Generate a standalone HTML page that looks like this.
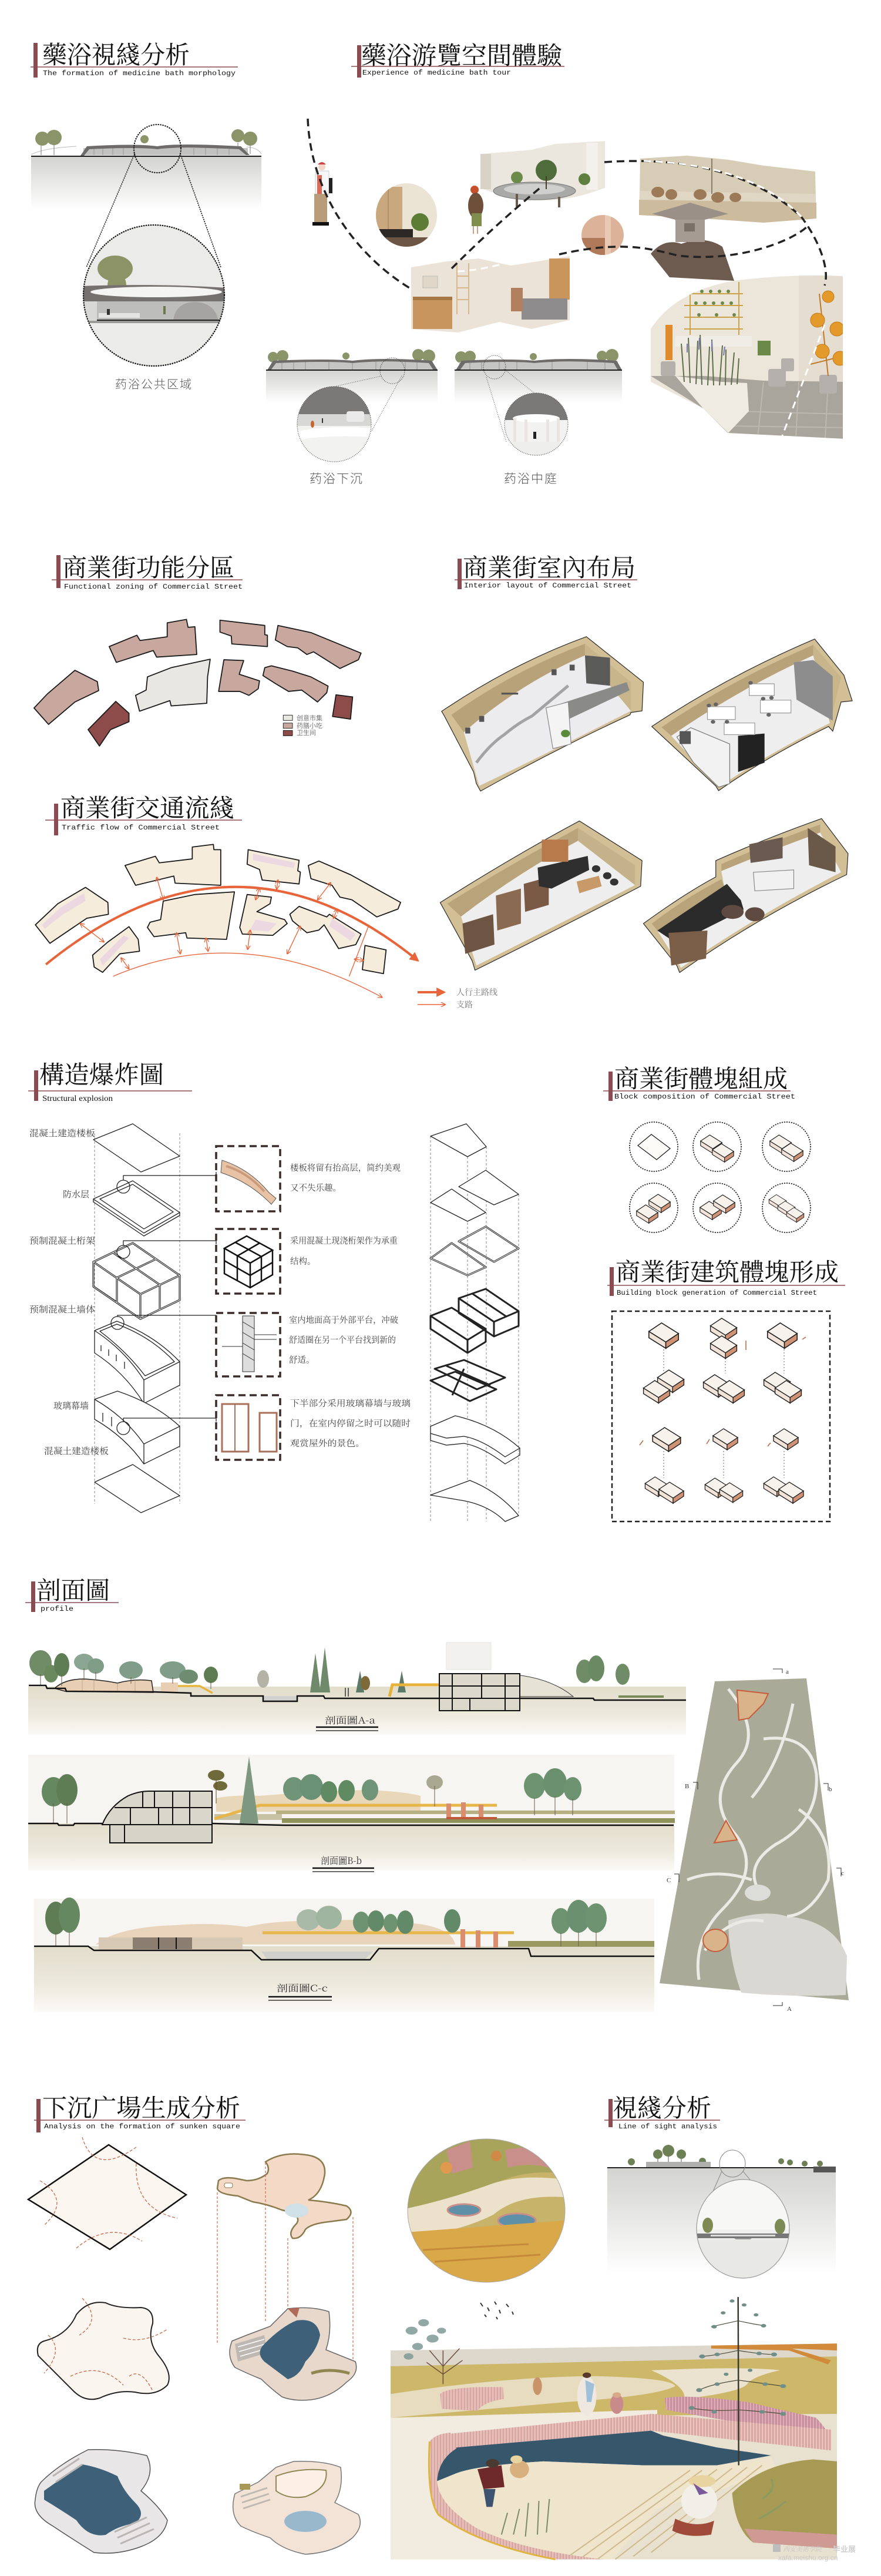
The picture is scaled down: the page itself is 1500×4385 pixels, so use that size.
<!DOCTYPE html>
<html><head><meta charset="utf-8">
<style>
html,body{margin:0;padding:0;background:#fff;}
body{width:1500px;height:4385px;overflow:hidden;position:relative;}
svg{display:block;position:absolute;left:0;top:0;}
.t *{vector-effect:non-scaling-stroke;}
.cj{font-family:"Noto Serif CJK SC","Noto Sans CJK SC",serif;}
.cs{font-family:"Liberation Sans","Noto Sans CJK SC",sans-serif;}
.en{font-family:"Liberation Mono",monospace;}
.sf{font-family:"Liberation Serif","Noto Serif CJK SC",serif;}
</style></head><body>
<svg width="1500" height="4385" viewBox="0 0 1500 4385" xmlns="http://www.w3.org/2000/svg">
<defs>
<linearGradient id="gG" x1="0" y1="0" x2="0" y2="1"><stop offset="0" stop-color="#d3d3d1"/><stop offset="1" stop-color="#ffffff"/></linearGradient>
<linearGradient id="gS" x1="0" y1="0" x2="0" y2="1"><stop offset="0" stop-color="#e2ddcb"/><stop offset=".55" stop-color="#ece8db"/><stop offset="1" stop-color="#fbfaf6"/></linearGradient>
<linearGradient id="gE" x1="0" y1="0" x2="0" y2="1"><stop offset="0" stop-color="#dddddb"/><stop offset="1" stop-color="#fafafa"/></linearGradient>
<clipPath id="cBig"><ellipse cx="262" cy="503" rx="120" ry="120"/></clipPath>
<clipPath id="cA"><ellipse cx="569" cy="722" rx="63" ry="64"/></clipPath>
<clipPath id="cB"><ellipse cx="913" cy="722" rx="54" ry="53"/></clipPath>
<clipPath id="cRound"><ellipse cx="692" cy="366" rx="52" ry="54"/></clipPath>
<clipPath id="cSmall"><ellipse cx="1026" cy="400" rx="36" ry="34"/></clipPath>
<clipPath id="cR"><path d="M1435,470 L1435,747 L1239,737 L1197,695 L1108,650 L1108,560 Q1150,495 1250,478 Q1340,466 1435,470 Z"/></clipPath>
<clipPath id="cCirc"><ellipse cx="828" cy="3763" rx="134" ry="122"/></clipPath>
<clipPath id="cSight"><ellipse cx="1265" cy="3794" rx="79" ry="84"/></clipPath>
<marker id="ah" viewBox="0 0 10 10" refX="9" refY="5" markerWidth="6" markerHeight="6" orient="auto-start-reverse"><path d="M0,0 L10,5 L0,10" fill="none" stroke="#e8643a" stroke-width="1.6"/></marker>
<marker id="ah2" viewBox="0 0 10 10" refX="8" refY="5" markerWidth="4" markerHeight="4" orient="auto"><path d="M0,0 L10,5 L0,10 Z" fill="#e8643a"/></marker>
<g id="blk">
<path d="M-14,-2 L2,8 L2,14 L-14,4 Z" fill="#f1e3d7" stroke="#222" stroke-width="0.9"/>
<path d="M2,8 L14,0 L14,6 L2,14 Z" fill="#cf9275" stroke="#222" stroke-width="0.9"/>
<path d="M-14,-2 L-2,-10 L14,0 L2,8 Z" fill="#f8f2ec" stroke="#222" stroke-width="0.9"/>
</g>
<pattern id="pst" patternUnits="userSpaceOnUse" width="10" height="10"><rect width="10" height="10" fill="#d9a8a4"/><rect width="3" height="10" fill="#efd0c6"/></pattern>
<pattern id="pst2" patternUnits="userSpaceOnUse" width="10" height="10"><rect width="10" height="10" fill="#c98f9c"/><rect width="3" height="10" fill="#e2b7bf"/></pattern>
</defs>

<!-- ================= TITLES ================= -->
<g fill="#111">
<rect x="57" y="73" width="7" height="59" fill="#8c4b50"/><line x1="52" y1="114" x2="405" y2="114" stroke="#8c4b50" stroke-width="1.5"/>
<text x="72" y="108" class="cj" font-size="42" textLength="251" lengthAdjust="spacingAndGlyphs">藥浴視綫分析</text>
<text x="73" y="128" class="en" font-size="12" textLength="328" lengthAdjust="spacingAndGlyphs">The formation of medicine bath morphology</text>

<rect x="608" y="77" width="7" height="55" fill="#8c4b50"/><line x1="598" y1="113" x2="961" y2="113" stroke="#8c4b50" stroke-width="1.5"/>
<text x="615" y="109" class="cj" font-size="42" textLength="342" lengthAdjust="spacingAndGlyphs">藥浴游覽空間體驗</text>
<text x="617" y="127" class="en" font-size="12" textLength="253" lengthAdjust="spacingAndGlyphs">Experience of medicine bath tour</text>

<rect x="96" y="945" width="7" height="56" fill="#8c4b50"/><line x1="88" y1="987" x2="413" y2="987" stroke="#8c4b50" stroke-width="1.5"/>
<text x="106" y="981" class="cj" font-size="42" textLength="293" lengthAdjust="spacingAndGlyphs">商業街功能分區</text>
<text x="109" y="1002" class="en" font-size="12" textLength="304" lengthAdjust="spacingAndGlyphs">Functional zoning of Commercial Street</text>

<rect x="779" y="951" width="7" height="52" fill="#8c4b50"/><line x1="774" y1="987" x2="1085" y2="987" stroke="#8c4b50" stroke-width="1.5"/>
<text x="788" y="981" class="cj" font-size="42" textLength="294" lengthAdjust="spacingAndGlyphs">商業街室內布局</text>
<text x="790" y="1000" class="en" font-size="12" textLength="285" lengthAdjust="spacingAndGlyphs">Interior layout of Commercial Street</text>

<rect x="92" y="1368" width="7" height="54" fill="#8c4b50"/><line x1="77" y1="1396" x2="412" y2="1396" stroke="#8c4b50" stroke-width="1.5"/>
<text x="103" y="1390" class="cj" font-size="42" textLength="296" lengthAdjust="spacingAndGlyphs">商業街交通流綫</text>
<text x="105" y="1412" class="en" font-size="12" textLength="269" lengthAdjust="spacingAndGlyphs">Traffic flow of Commercial Street</text>

<rect x="58" y="1822" width="7" height="52" fill="#8c4b50"/><line x1="48" y1="1857" x2="327" y2="1857" stroke="#8c4b50" stroke-width="1.5"/>
<text x="67" y="1844" class="cj" font-size="42" textLength="212" lengthAdjust="spacingAndGlyphs">構造爆炸圖</text>
<text x="72" y="1874" class="sf" font-size="14" textLength="120" lengthAdjust="spacingAndGlyphs">Structural explosion</text>

<rect x="1036" y="1824" width="7" height="50" fill="#8c4b50"/><line x1="1027" y1="1857" x2="1346" y2="1857" stroke="#8c4b50" stroke-width="1.5"/>
<text x="1046" y="1851" class="cj" font-size="42" textLength="295" lengthAdjust="spacingAndGlyphs">商業街體塊組成</text>
<text x="1046" y="1870" class="en" font-size="12" textLength="308" lengthAdjust="spacingAndGlyphs">Block composition of Commercial Street</text>

<rect x="1038" y="2157" width="7" height="49" fill="#8c4b50"/><line x1="1034" y1="2188" x2="1439" y2="2188" stroke="#8c4b50" stroke-width="1.5"/>
<text x="1048" y="2180" class="cj" font-size="42" textLength="380" lengthAdjust="spacingAndGlyphs">商業街建筑體塊形成</text>
<text x="1050" y="2204" class="en" font-size="12" textLength="341" lengthAdjust="spacingAndGlyphs">Building block generation of Commercial Street</text>

<rect x="53" y="2692" width="7" height="52" fill="#8c4b50"/><line x1="43" y1="2728" x2="202" y2="2728" stroke="#8c4b50" stroke-width="1.5"/>
<text x="62" y="2722" class="cj" font-size="42" textLength="125" lengthAdjust="spacingAndGlyphs">剖面圖</text>
<text x="69" y="2742" class="en" font-size="12" textLength="56" lengthAdjust="spacingAndGlyphs">profile</text>

<rect x="62" y="3573" width="7" height="57" fill="#8c4b50"/><line x1="58" y1="3609" x2="418" y2="3609" stroke="#8c4b50" stroke-width="1.5"/>
<text x="72" y="3603" class="cj" font-size="42" textLength="337" lengthAdjust="spacingAndGlyphs">下沉广場生成分析</text>
<text x="75" y="3623" class="en" font-size="12" textLength="334" lengthAdjust="spacingAndGlyphs">Analysis on the formation of sunken square</text>

<rect x="1036" y="3573" width="7" height="48" fill="#8c4b50"/><line x1="1029" y1="3609" x2="1226" y2="3609" stroke="#8c4b50" stroke-width="1.5"/>
<text x="1043" y="3603" class="cj" font-size="42" textLength="168" lengthAdjust="spacingAndGlyphs">視綫分析</text>
<text x="1053" y="3623" class="en" font-size="12" textLength="168" lengthAdjust="spacingAndGlyphs">Line of sight analysis</text>
</g>

<!-- ================= SECTION 1 LEFT ================= -->
<g>
<path d="M53,263 Q75,252 130,249 M420,250 Q440,252 445,262" stroke="#bbb" fill="none"/>
<rect x="53" y="266" width="392" height="92" fill="url(#gG)"/>
<g fill="#8b9469"><circle cx="72" cy="236" r="12"/><circle cx="92" cy="234" r="13"/><circle cx="405" cy="231" r="11"/><circle cx="426" cy="236" r="12"/><circle cx="246" cy="237" r="7"/></g>
<path d="M70,248 V264 M92,246 V264 M405,243 V262 M426,247 V262" stroke="#777" stroke-width="1"/>
<rect x="142" y="252" width="280" height="12" fill="#c2c2c0"/>
<path d="M160,252V264 M175,252V264 M192,252V264 M210,252V264 M330,252V264 M350,252V264 M370,252V264 M390,252V264" stroke="#8a8a8a" stroke-width="0.8"/>
<path d="M137,265 L148,249 Q230,244 268,249 Q300,243 410,249 L425,264 L419,264 L407,254 Q300,249 268,254 Q235,250 152,254 L143,265 Z" fill="#6d6c6a"/>
<line x1="53" y1="266" x2="445" y2="266" stroke="#1e1e1e" stroke-width="2"/>
<ellipse cx="268" cy="253" rx="40" ry="41" fill="none" stroke="#1a1a1a" stroke-width="2.2" stroke-dasharray="0.5 3.5" stroke-linecap="round"/>
<path d="M229,262 L147,455 M307,262 L376,455" stroke="#1a1a1a" stroke-width="1.8" stroke-dasharray="0.5 3.2" stroke-linecap="round" fill="none"/>
<ellipse cx="262" cy="503" rx="120" ry="120" fill="#ebebe9"/>
<g clip-path="url(#cBig)">
<ellipse cx="196" cy="457" rx="30" ry="22" fill="#8c9366"/><ellipse cx="199" cy="486" rx="16" ry="22" fill="#8c9366"/>
<path d="M138,487 Q260,482 386,490 L386,513 L138,513 Z" fill="#75716e"/>
<ellipse cx="266" cy="497" rx="112" ry="9" fill="#f4f4f2"/>
<rect x="138" y="513" width="250" height="33" fill="#bdbdbb"/>
<rect x="140" y="513" width="25" height="33" fill="#d8d8d6"/>
<path d="M295,546 Q298,516 330,514 Q365,514 372,546 Z" fill="#a5a4a2"/>
<rect x="168" y="533" width="70" height="8" fill="#e4e4e2"/>
<rect x="182" y="526" width="5" height="10" fill="#333"/><rect x="278" y="521" width="4" height="14" fill="#6f7a4a"/>
<rect x="138" y="546" width="250" height="4" fill="#9a9a98"/>
<line x1="165" y1="545" x2="386" y2="545" stroke="#222" stroke-width="2"/>
</g>
<ellipse cx="262" cy="503" rx="120" ry="120" fill="none" stroke="#1a1a1a" stroke-width="2.4" stroke-dasharray="0.5 3.5" stroke-linecap="round"/>
<text x="262" y="661" text-anchor="middle" class="cs" font-size="20" letter-spacing="2" fill="#555" font-weight="300">药浴公共区域</text>
</g>

<!-- ================= SECTION 1 BOTTOM DIAGRAMS ================= -->
<g>
<rect x="453" y="630" width="292" height="56" fill="url(#gG)"/>
<g fill="#8b9469"><circle cx="465" cy="608" r="9"/><circle cx="481" cy="606" r="10"/><circle cx="589" cy="606" r="6"/><circle cx="712" cy="604" r="10"/><circle cx="730" cy="606" r="11"/></g>
<rect x="462" y="616" width="275" height="14" fill="#c5c5c3"/>
<path d="M480,616V630 M500,616V630 M520,616V630 M560,616V630 M600,616V630 M640,616V630 M690,616V630 M710,616V630" stroke="#888" stroke-width="0.8"/>
<path d="M455,630 L465,614 Q560,610 600,614 Q650,608 735,614 L745,630 L738,630 L730,618 Q650,613 600,618 Q560,614 470,618 L461,630 Z" fill="#6d6c6a"/>
<line x1="453" y1="630" x2="745" y2="630" stroke="#1e1e1e" stroke-width="2"/>
<ellipse cx="668" cy="631" rx="21" ry="22" fill="none" stroke="#333" stroke-width="1.2" stroke-dasharray="1 2"/>
<path d="M650,640 L560,660 M684,640 L632,735" stroke="#444" stroke-width="1" stroke-dasharray="1 2" fill="none"/>
<ellipse cx="569" cy="722" rx="63" ry="64" fill="#f2f2f0"/>
<g clip-path="url(#cA)">
<rect x="500" y="655" width="140" height="50" fill="#7b7977"/>
<rect x="500" y="705" width="140" height="20" fill="#d7d7d5"/>
<path d="M500,735 Q570,722 640,730 L640,745 Q570,738 500,750 Z" fill="#fff"/>
<rect x="590" y="700" width="30" height="18" rx="4" fill="#eaeaea"/>
<ellipse cx="532" cy="722" rx="3" ry="6" fill="#c8642e"/><rect x="548" y="712" width="2" height="8" fill="#333"/>
</g>
<ellipse cx="569" cy="722" rx="63" ry="64" fill="none" stroke="#333" stroke-width="1.2" stroke-dasharray="1 2"/>
<text x="573" y="822" text-anchor="middle" class="cs" font-size="21" letter-spacing="2" fill="#555" font-weight="300">药浴下沉</text>

<rect x="774" y="630" width="285" height="56" fill="url(#gG)"/>
<g fill="#8b9469"><circle cx="785" cy="608" r="10"/><circle cx="800" cy="607" r="10"/><circle cx="908" cy="607" r="6"/><circle cx="1025" cy="606" r="9"/><circle cx="1042" cy="605" r="11"/></g>
<rect x="782" y="616" width="270" height="14" fill="#c5c5c3"/>
<path d="M800,616V630 M820,616V630 M850,616V630 M880,616V630 M940,616V630 M1000,616V630 M1030,616V630" stroke="#888" stroke-width="0.8"/>
<path d="M776,630 L786,614 Q870,610 910,614 Q960,608 1050,614 L1059,630 L1052,630 L1045,618 Q960,613 910,618 Q870,614 792,618 L783,630 Z" fill="#6d6c6a"/>
<line x1="774" y1="630" x2="1059" y2="630" stroke="#1e1e1e" stroke-width="2"/>
<ellipse cx="842" cy="625" rx="19" ry="20" fill="none" stroke="#333" stroke-width="1.2" stroke-dasharray="1 2"/>
<path d="M828,642 L862,752 M858,628 L936,690" stroke="#444" stroke-width="1" stroke-dasharray="1 2" fill="none"/>
<ellipse cx="913" cy="722" rx="54" ry="53" fill="#f2f2f0"/>
<g clip-path="url(#cB)">
<rect x="855" y="665" width="120" height="50" fill="#7b7977"/>
<ellipse cx="913" cy="712" rx="40" ry="7" fill="#fff"/>
<rect x="874" y="712" width="5" height="40" fill="#e9e4df"/><rect x="893" y="714" width="5" height="40" fill="#e9e4df"/><rect x="930" y="714" width="5" height="40" fill="#e9e4df"/><rect x="948" y="712" width="5" height="40" fill="#e9e4df"/>
<rect x="855" y="752" width="120" height="25" fill="#eeeeec"/>
<rect x="908" y="735" width="5" height="12" fill="#222"/>
</g>
<ellipse cx="913" cy="722" rx="54" ry="53" fill="none" stroke="#333" stroke-width="1.2" stroke-dasharray="1 2"/>
<text x="904" y="822" text-anchor="middle" class="cs" font-size="21" letter-spacing="2" fill="#555" font-weight="300">药浴中庭</text>
</g>

<!-- ================= SECTION 1 RIGHT (tour) ================= -->
<g>
<path d="M818,262 L870,258 L905,255 L945,245 L1030,240 L1030,320 L1000,330 Q930,350 860,335 L818,320 Z" fill="#ebe6de"/>
<rect x="818" y="262" width="18" height="60" fill="#d9d2c6"/><rect x="998" y="243" width="20" height="80" fill="#f4f1ec"/>
<ellipse cx="910" cy="325" rx="70" ry="15" fill="#a9a9a7" stroke="#777"/>
<ellipse cx="910" cy="322" rx="52" ry="9" fill="#cfcfcd"/>
<circle cx="930" cy="290" r="18" fill="#4f6d3a"/><line x1="930" y1="300" x2="930" y2="322" stroke="#4a3a2a" stroke-width="2"/>
<circle cx="880" cy="302" r="10" fill="#6c8a4a"/><circle cx="995" cy="305" r="10" fill="#5f7f40"/>
<rect x="878" y="330" width="4" height="22" fill="#6a5a4a"/><rect x="950" y="335" width="4" height="18" fill="#6a5a4a"/>
<path d="M1090,270 L1170,265 L1240,272 L1300,282 L1388,292 L1390,372 L1300,379 L1200,372 L1088,366 Z" fill="#e0d6c4"/>
<path d="M1090,270 L1170,265 L1240,272 L1300,282 L1388,292 L1388,330 L1090,325 Z" fill="#d7ccb6"/>
<path d="M1088,340 L1390,345 L1390,372 L1300,379 L1200,372 L1088,366 Z" fill="#cdbb9d"/>
<g fill="#9c7a57"><ellipse cx="1120" cy="327" rx="11" ry="9"/><ellipse cx="1143" cy="331" rx="10" ry="9"/><ellipse cx="1192" cy="331" rx="11" ry="9"/><ellipse cx="1222" cy="336" rx="11" ry="9"/><ellipse cx="1252" cy="336" rx="10" ry="8"/></g>
<line x1="1212" y1="270" x2="1212" y2="330" stroke="#8a7d6a" stroke-width="2"/>
<path d="M1108,432 Q1130,405 1160,415 Q1200,400 1230,420 L1250,478 L1140,472 Z" fill="#6e5b4f"/>
<rect x="1150" y="372" width="50" height="40" fill="#a59b92"/><rect x="1165" y="380" width="18" height="14" fill="#7a7068"/>
<path d="M1110,364 L1175,345 L1240,364 L1200,374 L1150,374 Z" fill="#9a9088"/>
<ellipse cx="1026" cy="400" rx="36" ry="34" fill="#dcb298"/>
<g clip-path="url(#cSmall)"><rect x="990" y="405" width="40" height="30" fill="#b07a5a"/><rect x="1030" y="366" width="10" height="70" fill="#e8c9b4"/></g>
<ellipse cx="692" cy="366" rx="52" ry="54" fill="#ebe3d3"/>
<g clip-path="url(#cRound)">
<rect x="640" y="318" width="45" height="80" fill="#c9a87f"/><rect x="660" y="318" width="2" height="80" fill="#b28f66"/>
<rect x="645" y="390" width="58" height="14" fill="#2b2826"/>
<circle cx="715" cy="378" r="15" fill="#5e7d34"/>
<rect x="640" y="404" width="110" height="20" fill="#6d5544"/>
</g>
<path d="M700,455 L760,445 L815,440 L870,452 L915,445 L970,436 L970,545 L905,560 L850,548 L780,566 L700,560 Z" fill="#ebe3d7"/>
<rect x="703" y="505" width="67" height="55" fill="#c8955f"/><rect x="703" y="505" width="67" height="6" fill="#a77645"/>
<path d="M778,450 L778,535 M798,448 L798,535 M778,470 H798 M778,490 H798 M778,510 H798" stroke="#d9b78a" stroke-width="2"/>
<rect x="935" y="440" width="35" height="70" fill="#c9955a"/>
<rect x="888" y="508" width="78" height="36" fill="#8d8b8b"/>
<rect x="870" y="490" width="20" height="40" fill="#b08060"/>
<rect x="720" y="470" width="25" height="20" fill="#e1d7c8" stroke="#bbb"/>
<circle cx="548" cy="284" r="6" fill="#f0d5c8"/><path d="M541,280 Q548,272 555,280 Z" fill="#c44"/>
<rect x="537" y="291" width="23" height="40" fill="#f6f6f6" stroke="#ccc"/>
<rect x="560" y="303" width="6" height="26" fill="#222"/>
<rect x="540" y="298" width="8" height="36" fill="#d86a5a"/>
<rect x="535" y="330" width="22" height="48" fill="#b89c7a"/>
<rect x="532" y="378" width="28" height="6" fill="#111"/>
<circle cx="808" cy="323" r="7" fill="#c8502a"/>
<ellipse cx="810" cy="350" rx="13" ry="22" fill="#6e4f3a"/>
<rect x="803" y="363" width="17" height="22" fill="#7f8e4c"/>
<path d="M806,385 V398 M813,385 V398" stroke="#c9a08a" stroke-width="2"/>
<g clip-path="url(#cR)">
<rect x="1100" y="460" width="340" height="300" fill="#ece6da"/>
<rect x="1360" y="460" width="80" height="200" fill="#e4ddd0"/>
<path d="M1165,500 H1265 M1165,520 H1265 M1165,540 H1265 M1165,560 H1265 M1175,480 V570 M1258,480 V570" stroke="#c9a24a" stroke-width="2"/>
<g fill="#6b8a4a"><circle cx="1180" cy="496" r="3"/><circle cx="1195" cy="496" r="3"/><circle cx="1210" cy="496" r="3"/><circle cx="1225" cy="496" r="3"/><circle cx="1240" cy="496" r="3"/><circle cx="1185" cy="516" r="3"/><circle cx="1200" cy="516" r="3"/><circle cx="1215" cy="516" r="3"/><circle cx="1230" cy="516" r="3"/><circle cx="1245" cy="516" r="3"/><circle cx="1190" cy="536" r="3"/><circle cx="1220" cy="536" r="3"/><circle cx="1250" cy="536" r="3"/></g>
<rect x="1133" y="553" width="12" height="60" fill="#e08a2a"/>
<rect x="1150" y="572" width="130" height="18" fill="#f0ede6"/>
<path d="M1108,640 L1197,695 L1239,737 L1440,747 L1440,650 L1300,648 L1200,640 Z" fill="#a9a49c"/>
<path d="M1250,700 L1440,705 M1240,725 L1440,728 M1300,650 L1290,745 M1360,650 L1355,745 M1410,650 L1405,745" stroke="#bcb7af" stroke-width="2"/>
<g fill="#b5b0ab"><rect x="1308" y="628" width="30" height="30" rx="4"/><rect x="1395" y="638" width="30" height="32" rx="4"/><rect x="1330" y="610" width="22" height="22" rx="3"/><rect x="1125" y="615" width="25" height="25" rx="3"/></g>
<path d="M1150,640 L1228,650 L1272,652 L1275,700 L1240,737 L1197,695 Z" fill="#efebe3"/>
<g stroke="#5d6d4a" stroke-width="2"><path d="M1165,650 L1160,585 M1175,652 L1172,575 M1185,654 L1188,580 M1195,655 L1192,570 M1205,656 L1208,590 M1215,656 L1212,578 M1225,656 L1230,588 M1235,656 L1236,595 M1245,655 L1250,600 M1255,654 L1258,610"/></g>
<g stroke="#7a78b0" stroke-width="2"><path d="M1170,600 L1170,585 M1190,595 L1191,575 M1212,598 L1212,580 M1232,605 L1234,590"/></g>
<rect x="1290" y="580" width="22" height="25" fill="#6b8a4a"/>
<path d="M1395,500 L1410,640 M1380,620 L1440,605" stroke="#c0782a" stroke-width="2"/>
<g fill="#e39a2a" stroke="#c07a1a"><circle cx="1410" cy="505" r="10"/><circle cx="1392" cy="545" r="12"/><circle cx="1425" cy="560" r="12"/><circle cx="1400" cy="598" r="12"/><circle cx="1430" cy="610" r="12"/></g>
</g>
<g fill="none" stroke-linecap="butt">
<path d="M524,202 C529,337 615,442 702,493" stroke="#222" stroke-width="3.5" stroke-dasharray="13 8"/>
<path d="M769,457 C817,409 865,365 923,317" stroke="#222" stroke-width="3.5" stroke-dasharray="13 8"/>
<path d="M952,433 C1058,409 1106,423 1154,435 C1250,447 1346,413 1375,385" stroke="#222" stroke-width="3.5" stroke-dasharray="13 8"/>
<path d="M1029,276 C1154,267 1279,288 1365,370 C1394,409 1413,457 1404,486" stroke="#222" stroke-width="3.5" stroke-dasharray="13 8"/>
<path d="M1096,274 C1250,279 1327,327 1370,375" stroke="#fff" stroke-width="3" stroke-dasharray="12 8"/>
<path d="M779,462 C865,457 913,423 962,423" stroke="#fff" stroke-width="3" stroke-dasharray="12 8"/>
<path d="M1404,553 L1325,760" stroke="#fff" stroke-width="3" stroke-dasharray="12 8"/>
</g>
</g>

<!-- ================= SECTION 2 : zoning + traffic ================= -->
<g transform="translate(40,1040) scale(0.449)" stroke="#1a1a1a" stroke-width="4" stroke-linejoin="round">
<g fill="#c8a89e">
<path d="M325,135 L430,92 L442,112 L545,98 L545,45 L618,32 L624,62 L650,60 L657,165 L505,175 L492,150 L352,195 Z"/>
<path d="M745,35 L915,55 L915,90 L925,92 L925,135 L790,125 L788,95 L745,80 Z"/>
<path d="M965,55 L1090,82 L1280,160 L1270,185 L1200,218 L1100,155 L1075,165 L1040,140 L1000,135 L955,110 Z"/>
<path d="M40,368 L90,315 L195,225 L280,268 L285,302 L195,345 L95,430 Z"/>
<path d="M760,185 L835,188 L818,240 L895,265 L890,295 L855,320 L820,305 L740,305 Z"/>
<path d="M915,215 L940,208 L1020,228 L1090,250 L1155,285 L1150,310 L1115,345 L1055,300 L1005,305 L955,275 L908,245 Z"/>
</g>
<path d="M470,250 L560,215 L708,183 L698,250 L695,350 L560,360 L555,340 L440,380 L425,320 L465,300 Z" fill="#e9e7e1"/>
<g fill="#8d4c49"><path d="M245,450 L350,343 L400,388 L400,420 L330,450 L288,512 Z"/><path d="M1185,318 L1248,326 L1240,410 L1172,400 Z"/></g>
<g stroke-width="2"><rect x="985" y="395" width="35" height="20" fill="#e9e7e1"/><rect x="985" y="425" width="35" height="20" fill="#c8a89e"/><rect x="985" y="453" width="35" height="20" fill="#8d4c49"/></g>

<g fill="#f5ecdc">
<path d="M385,965 L500,930 L515,955 L640,940 L640,895 L720,885 L722,905 L748,905 L748,1040 L575,1032 L570,1005 L425,1040 Z"/>
<path d="M852,905 L1045,945 L1040,985 L1050,990 L1045,1035 L905,1020 L895,980 L848,960 Z"/>
<path d="M1080,965 L1120,948 L1240,1000 L1430,1105 L1420,1130 L1340,1160 L1245,1095 L1200,1085 L1170,1040 L1090,1015 Z"/>
<path d="M45,1190 L130,1110 L235,1048 L320,1105 L322,1150 L240,1165 L100,1260 Z"/>
<path d="M480,1180 L520,1170 L530,1100 L650,1075 L800,1065 L770,1245 L620,1240 L615,1220 L495,1235 L470,1200 Z"/>
<path d="M262,1305 L320,1255 L400,1197 L435,1245 L440,1290 L365,1300 L300,1370 L268,1350 Z"/>
<path d="M848,1075 L940,1085 L935,1110 L885,1140 L990,1170 L1000,1185 L945,1230 L830,1225 L820,1200 Z"/>
<path d="M1010,1150 L1045,1120 L1150,1160 L1160,1150 L1280,1225 L1260,1265 L1195,1280 L1140,1190 L1120,1210 L1075,1220 L1020,1175 Z"/>
<path d="M1295,1268 L1375,1285 L1365,1375 L1285,1360 Z"/>
</g>
<g fill="#ead3e2" stroke="none" opacity=".8">
<path d="M70,1190 L140,1125 L230,1070 L235,1100 L150,1150 L80,1205 Z"/>
<path d="M870,920 L1030,955 L1025,975 L870,945 Z"/>
<path d="M880,1170 L960,1185 L930,1215 L860,1210 Z"/>
<path d="M1170,1165 L1260,1225 L1240,1250 L1160,1195 Z"/>
<path d="M290,1320 L380,1230 L400,1240 L300,1345 Z"/>
</g>
<g fill="none" stroke="#e8643a">
<path d="M85,1340 Q800,760 1495,1325" stroke-width="9" marker-end="url(#ah2)"/>
<path d="M340,1385 Q830,1175 1360,1465" stroke-width="3" marker-end="url(#ah)"/>
<g stroke-width="3" marker-start="url(#ah)" marker-end="url(#ah)">
<path d="M215,1185 L305,1255"/><path d="M370,1315 L400,1357"/><path d="M505,1010 L530,1095"/><path d="M580,1220 L595,1300"/><path d="M692,1240 L700,1290"/><path d="M895,1050 L880,1095"/><path d="M965,1020 L960,1055"/><path d="M860,1210 L850,1283"/><path d="M1050,1195 L1000,1300"/><path d="M1165,1030 L1115,1095"/><path d="M1190,1130 L1175,1165"/><path d="M1255,1320 L1290,1325"/>
</g>
<path d="M1310,1190 L1235,1385" stroke-width="3"/>
</g>
</g>
<g class="cs" font-size="11" fill="#777"><text x="505" y="1226">创意市集</text><text x="505" y="1239">药膳小吃</text><text x="505" y="1251">卫生间</text></g>
<line x1="711" y1="1689" x2="756" y2="1689" stroke="#e8643a" stroke-width="4" marker-end="url(#ah2)"/>
<line x1="711" y1="1710" x2="758" y2="1710" stroke="#e8643a" stroke-width="1.4" marker-end="url(#ah)"/>
<g class="cj" font-size="14" fill="#777"><text x="777" y="1694">人行主路线</text><text x="777" y="1715">支路</text></g>

<!-- ================= SECTION 2 : interior renders ================= -->
<g class="t" transform="translate(740,1060) scale(0.474,0.397)" stroke="#2a2a2a" stroke-width="1.2">
<path d="M25,380 Q280,175 545,60 L750,255 L745,378 L705,385 L702,395 Q430,545 165,722 L150,690 L140,640 L35,400 Z" fill="#d3bf96"/>
<path d="M60,395 Q285,205 540,90 L540,140 Q300,265 105,470 Z" fill="#b8a27a" stroke="none"/>
<path d="M105,470 Q300,265 540,140 L705,378 Q430,545 160,700 Z" fill="#ecebed" stroke="none"/>
<path d="M540,90 L705,255 L705,378 L540,140 Z" fill="#c9b58c" stroke="none"/>
<path d="M150,600 Q200,520 250,480 Q300,430 350,400 Q420,330 480,270" fill="none" stroke="#a3a3a3" stroke-width="5"/>
<path d="M420,360 L690,255 L700,290 L470,420 Z" fill="#8a8a88" stroke="none"/>
<path d="M400,365 L480,340 L490,520 L425,540 Z" fill="#f4f4f4" stroke="#888"/>
<path d="M540,140 L630,150 L630,270 L545,260 Z" fill="#5a5a58" stroke="none"/>
<circle cx="470" cy="475" r="16" fill="#5a8a3a" stroke="none"/>
<g fill="#555" stroke="none"><rect x="110" y="450" width="18" height="25"/><rect x="160" y="400" width="18" height="25"/><rect x="420" y="200" width="18" height="25"/><rect x="485" y="180" width="18" height="25"/><rect x="240" y="300" width="60" height="8"/></g>
<path d="M780,445 Q1050,230 1365,70 L1470,225 L1500,335 L1460,340 L1430,465 L1415,445 Q1200,570 1020,720 L1010,700 Z" fill="#d3bf96"/>
<path d="M815,448 Q1060,250 1360,95 L1360,140 Q1100,280 850,485 Z" fill="#b8a27a" stroke="none"/>
<path d="M850,485 Q1100,280 1360,140 L1420,430 Q1200,560 1020,705 Z" fill="#efeeef" stroke="none"/>
<path d="M1360,95 L1460,235 L1420,430 L1360,140 Z" fill="#c9b58c" stroke="none"/>
<path d="M870,490 L920,450 L1060,520 L1060,690 L1020,705 L930,600 Z" fill="#f2f2f2" stroke="#777"/>
<rect x="880" y="465" width="40" height="55" fill="#555" stroke="none"/>
<path d="M1090,485 L1185,475 L1185,600 L1090,640 Z" fill="#222" stroke="none"/>
<g fill="#fff" stroke="#999"><rect x="980" y="360" width="100" height="55"/><rect x="1130" y="262" width="90" height="50"/><rect x="1170" y="332" width="110" height="55"/><rect x="1040" y="430" width="110" height="50"/></g>
<g fill="#666" stroke="none"><circle cx="985" cy="355" r="8"/><circle cx="1010" cy="350" r="8"/><circle cx="1135" cy="258" r="8"/><circle cx="1180" cy="326" r="8"/><circle cx="1210" cy="322" r="8"/><circle cx="1050" cy="425" r="8"/><circle cx="1000" cy="425" r="8"/><circle cx="1200" cy="395" r="8"/></g>
<path d="M1290,170 L1360,160 L1430,230 L1430,420 L1300,330 Z" fill="#8d8d8d" stroke="none"/>
<path d="M20,1200 Q270,1010 520,850 L745,1020 L740,1130 Q450,1310 145,1490 L135,1450 Z" fill="#d3bf96"/>
<path d="M45,1205 Q280,1030 515,880 L515,935 Q290,1080 95,1260 Z" fill="#b9a37b" stroke="none"/>
<path d="M95,1260 Q290,1080 515,935 L720,1125 Q450,1290 150,1470 Z" fill="#efeeef" stroke="none"/>
<path d="M515,880 L720,1040 L720,1125 L515,935 Z" fill="#c6b28a" stroke="none"/>
<g stroke="none"><path d="M100,1290 L210,1250 L215,1380 L110,1420 Z" fill="#6e5442"/><path d="M220,1170 L310,1140 L310,1290 L225,1320 Z" fill="#8a6a50"/><path d="M320,1120 L410,1090 L410,1210 L325,1240 Z" fill="#7a5a45"/><path d="M370,1050 L550,1000 L555,1060 L420,1140 L375,1130 Z" fill="#2f2f2f"/><rect x="385" y="930" width="95" height="95" fill="#b87a4a"/><path d="M510,1110 L590,1085 L600,1130 L520,1160 Z" fill="#c89a6a"/><circle cx="580" cy="1055" r="15" fill="#333"/><circle cx="620" cy="1085" r="15" fill="#333"/><circle cx="645" cy="1112" r="15" fill="#333"/></g>
<path d="M750,1290 Q900,1160 1010,1090 L1010,1020 Q1200,920 1390,840 L1485,990 L1480,1080 Q1150,1270 880,1500 L870,1470 Z" fill="#d3bf96"/>
<path d="M780,1290 Q900,1180 1030,1100 L1040,1130 L800,1320 Z" fill="#b9a37b" stroke="none"/>
<path d="M1030,1035 Q1200,945 1385,865 L1385,900 Q1200,980 1030,1065 Z" fill="#b9a37b" stroke="none"/>
<path d="M800,1320 L1040,1130 L1030,1065 Q1200,980 1385,900 L1460,1070 Q1150,1260 885,1480 Z" fill="#efeeef" stroke="none"/>
<g stroke="none"><path d="M800,1320 L1050,1120 L1100,1190 L1110,1230 L960,1320 L900,1400 Z" fill="#2b2b2b"/><path d="M840,1330 L980,1320 L975,1440 L850,1470 Z" fill="#7a5e48"/><path d="M1340,880 L1440,960 L1440,1070 L1345,1040 Z" fill="#6a5848"/><ellipse cx="1070" cy="1240" rx="40" ry="30" fill="#5e4a40"/><ellipse cx="1150" cy="1250" rx="35" ry="30" fill="#5e4a40"/><path d="M1130,950 L1250,920 L1250,1010 L1135,1030 Z" fill="#6b5a50"/></g>
<path d="M1145,1070 L1290,1060 L1290,1140 L1150,1150 Z" fill="#f1f1f1" stroke="#888"/>
</g>

<!-- ================= SECTION 3 : explosion ================= -->
<g class="cj" font-size="15" fill="#444">
<text x="50" y="1934" textLength="112" lengthAdjust="spacingAndGlyphs">混凝土建造楼板</text>
<text x="107" y="2038">防水层</text>
<text x="50" y="2117" textLength="112" lengthAdjust="spacingAndGlyphs">预制混凝土桁架</text>
<text x="50" y="2234" textLength="112" lengthAdjust="spacingAndGlyphs">预制混凝土墙体</text>
<text x="91" y="2398">玻璃幕墙</text>
<text x="75" y="2475" textLength="110" lengthAdjust="spacingAndGlyphs">混凝土建造楼板</text>
</g>
<g class="cj" font-size="14.5" fill="#444">
<text x="494" y="1993" textLength="188" lengthAdjust="spacingAndGlyphs">楼板将留有抬高层，简约美观</text>
<text x="494" y="2027">又不失乐趣。</text>
<text x="494" y="2117" textLength="183" lengthAdjust="spacingAndGlyphs">采用混凝土现浇桁架作为承重</text>
<text x="494" y="2152">结构。</text>
<text x="492" y="2252" textLength="186" lengthAdjust="spacingAndGlyphs">室内地面高于外部平台，冲破</text>
<text x="492" y="2286" textLength="182" lengthAdjust="spacingAndGlyphs">舒适圈在另一个平台找到新的</text>
<text x="492" y="2320">舒适。</text>
<text x="494" y="2394" textLength="205" lengthAdjust="spacingAndGlyphs">下半部分采用玻璃幕墙与玻璃</text>
<text x="494" y="2428" textLength="205" lengthAdjust="spacingAndGlyphs">门，在室内停留之时可以随时</text>
<text x="494" y="2462" textLength="127" lengthAdjust="spacingAndGlyphs">观赏屋外的景色。</text>
</g>
<g fill="none" stroke="#222" stroke-width="1.3" stroke-linejoin="round">
<path d="M161,1929 V2560 M306,1929 V2560" stroke="#888" stroke-width="1" stroke-dasharray="4 3"/>
<polygon points="159,1940 226,1913 306,1968 240,1995" fill="#fff"/>
<polygon points="159,2041 226,2010 306,2064 245,2099" fill="#fff"/>
<polygon points="170,2041 226,2016 295,2063 245,2092"/>
<polyline points="159,2041 159,2046 245,2104 306,2069 306,2064"/>
<g stroke-width="3.2"><polygon points="159,2148 226,2116 306,2171 239,2203"/><polyline points="159,2148 159,2190 239,2245 306,2213 306,2171"/><path d="M239,2203 V2245 M192,2132 L272,2187 M266,2143 L199,2175 M199,2175 V2217 M272,2187 V2229 M159,2190 L199,2217"/></g>
<g stroke="#fff" stroke-width="1"><polygon points="159,2148 226,2116 306,2171 239,2203"/><polyline points="159,2148 159,2190 239,2245 306,2213 306,2171"/><path d="M239,2203 V2245 M192,2132 L272,2187 M266,2143 L199,2175 M199,2175 V2217 M272,2187 V2229"/></g>
<path d="M161,2265 L199,2249 Q262,2272 306,2318 L245,2349 Q212,2298 161,2265 Z" fill="#fff"/>
<path d="M170,2266 L199,2254 Q258,2276 297,2318 L247,2342 Q215,2300 170,2266 Z"/>
<path d="M161,2265 L161,2303 Q212,2336 245,2389 L245,2349 M245,2389 L306,2358 L306,2318"/>
<path d="M172,2290 V2300 M185,2297 V2308 M198,2306 V2317 M212,2318 V2330"/>
<path d="M161,2382 L200,2368 Q265,2390 306,2428 L245,2458 Q213,2412 161,2382 Z" fill="#fff"/>
<path d="M161,2382 L161,2416 Q213,2446 245,2492 L245,2458 M245,2492 L306,2462 L306,2428"/>
<path d="M175,2405 V2420 M190,2412 V2428"/>
<polygon points="161,2523 226,2493 306,2546 240,2575" fill="#fff"/>
<ellipse cx="210" cy="2020" rx="11" ry="11"/><path d="M210,2009 V2001 H368 M368,1995 V2007"/>
<ellipse cx="210" cy="2131" rx="11" ry="11"/><path d="M210,2120 V2112 H368 M368,2106 V2118"/>
<ellipse cx="200" cy="2252" rx="11" ry="11"/><path d="M200,2241 V2239 H368"/>
<ellipse cx="210" cy="2431" rx="11" ry="11"/><path d="M210,2420 V2414 H368 M368,2408 V2420"/>
</g>
<g fill="none" stroke="#3a2a28" stroke-width="3.5" stroke-dasharray="12 7">
<rect x="368" y="1951" width="109" height="111"/><rect x="368" y="2092" width="109" height="110"/><rect x="368" y="2235" width="109" height="108"/><rect x="368" y="2375" width="109" height="110"/>
</g>
<path d="M378,1975 Q425,1990 458,2030 L470,2040 L462,2050 Q425,2012 376,1996 Z" fill="#e8c2a4" stroke="#555"/>
<path d="M385,1985 Q420,1995 450,2028" stroke="#c99a7c" stroke-width="4" fill="none"/>
<g fill="none" stroke="#111" stroke-width="2.5"><polygon points="382,2125 420,2104 464,2128 426,2150"/><path d="M382,2125 V2168 L426,2192 L464,2170 V2128 M426,2150 V2192 M382,2146 L426,2171 L464,2149 M401,2115 L445,2139 V2181 M442,2116 L404,2138 V2180"/></g>
<rect x="413" y="2240" width="20" height="95" fill="#ddd" stroke="#333"/>
<path d="M413,2250 L433,2262 M413,2268 L433,2280 M413,2286 L433,2298 M413,2304 L433,2316 M433,2272 H471 M433,2280 H471 M378,2292 H413" stroke="#333" stroke-width="1"/>
<rect x="378" y="2390" width="45" height="81" fill="none" stroke="#a8715a" stroke-width="3"/><line x1="400" y1="2390" x2="400" y2="2471" stroke="#a8715a" stroke-width="2"/>
<rect x="442" y="2405" width="29" height="66" fill="none" stroke="#a8715a" stroke-width="3"/>
<g fill="none" stroke="#222" stroke-width="1.3" stroke-linejoin="round">
<path d="M733,1934 V2590 M796,1969 V2590 M828,1952 V2590 M883,2033 V2580" stroke="#888" stroke-width="1" stroke-dasharray="4 3"/>
<polygon points="733,1934 794,1913 828,1952 796,1969" fill="#fff"/>
<polygon points="781,2020 827,1992 883,2033 841,2051" fill="#fff"/>
<polygon points="733,2047 769,2024 827,2064 796,2079" fill="#fff"/>
<polygon points="781,2113 827,2088 883,2125 841,2148" stroke-width="3"/><polygon points="781,2113 827,2088 883,2125 841,2148" stroke="#fff" stroke-width="1"/>
<polygon points="733,2142 769,2116 827,2157 796,2171" stroke-width="3"/><polygon points="733,2142 769,2116 827,2157 796,2171" stroke="#fff" stroke-width="1"/>
<g stroke-width="3"><polygon points="781,2210 827,2194 883,2232 841,2250"/><path d="M781,2210 V2235 L841,2275 L883,2257 V2232 M841,2250 V2275 M804,2202 L862,2241"/><polygon points="733,2240 769,2226 827,2262 796,2281"/><path d="M733,2240 V2262 L796,2303 L827,2284 V2262 M796,2281 V2303"/></g>
<g stroke-width="3"><polygon points="740,2330 790,2315 860,2345 812,2365"/><polygon points="733,2350 775,2335 845,2365 800,2385"/><path d="M760,2325 L835,2358 M790,2330 L770,2375"/></g>
<path d="M733,2428 L775,2410 Q840,2425 885,2465 L860,2480 Q820,2450 790,2445 L760,2448 L733,2440 Z" fill="#fff"/>
<path d="M733,2440 V2452 L760,2460 L790,2457 Q820,2462 860,2492 L885,2477 V2465"/>
<path d="M733,2545 L800,2520 Q850,2540 883,2580 L860,2590 Q830,2560 780,2553 Z" fill="#fff"/>
</g>
<!-- block composition circles -->
<g fill="none" stroke="#333" stroke-width="2" stroke-dasharray="0.5 3.5" stroke-linecap="round">
<ellipse cx="1113" cy="1952" rx="41" ry="42"/><ellipse cx="1221" cy="1952" rx="41" ry="42"/><ellipse cx="1339" cy="1952" rx="41" ry="42"/>
<ellipse cx="1113" cy="2056" rx="41" ry="42"/><ellipse cx="1221" cy="2056" rx="41" ry="42"/><ellipse cx="1339" cy="2056" rx="41" ry="42"/>
</g>
<path d="M1086,1950 L1109,1931 L1141,1955 L1118,1974 Z" fill="#fdfbf8" stroke="#222" stroke-width="1.3"/>
<use href="#blk" transform="translate(1211,1945) scale(1.3)"/><use href="#blk" transform="translate(1231,1960) scale(1.3)"/>
<use href="#blk" transform="translate(1329,1945) scale(1.3)"/><use href="#blk" transform="translate(1349,1959) scale(1.3)"/>
<use href="#blk" transform="translate(1123,2046) scale(1.3)"/><use href="#blk" transform="translate(1102,2064) scale(1.3)"/>
<use href="#blk" transform="translate(1210,2058) scale(1.3)"/><use href="#blk" transform="translate(1233,2047) scale(1.3)"/>
<use href="#blk" transform="translate(1324,2044) scale(1.05)"/><use href="#blk" transform="translate(1339,2055) scale(1.05)"/><use href="#blk" transform="translate(1354,2066) scale(1.05)"/>
<!-- generation -->
<rect x="1042" y="2232" width="371" height="358" fill="none" stroke="#222" stroke-width="2.5" stroke-dasharray="8 5"/>
<g stroke="#666" stroke-width="1" stroke-dasharray="2 3"><path d="M1130,2292 V2338 M1235,2302 V2338 M1335,2292 V2338 M1130,2470 V2516 M1232,2470 V2516 M1335,2470 V2516"/></g>
<use href="#blk" transform="translate(1130,2270) scale(1.8)"/>
<use href="#blk" transform="translate(1232,2260) scale(1.6)"/><use href="#blk" transform="translate(1232,2290) scale(1.6)"/>
<use href="#blk" transform="translate(1332,2270) scale(1.8)"/>
<use href="#blk" transform="translate(1142,2348) scale(1.6)"/><use href="#blk" transform="translate(1118,2366) scale(1.6)"/>
<use href="#blk" transform="translate(1220,2356) scale(1.6)"/><use href="#blk" transform="translate(1245,2366) scale(1.6)"/>
<use href="#blk" transform="translate(1323,2352) scale(1.6)"/><use href="#blk" transform="translate(1342,2366) scale(1.6)"/>
<use href="#blk" transform="translate(1135,2447) scale(1.7)"/><use href="#blk" transform="translate(1235,2447) scale(1.5)"/><use href="#blk" transform="translate(1338,2447) scale(1.5)"/>
<use href="#blk" transform="translate(1118,2528) scale(1.4)"/><use href="#blk" transform="translate(1143,2538) scale(1.5)"/>
<use href="#blk" transform="translate(1220,2530) scale(1.4)"/><use href="#blk" transform="translate(1245,2538) scale(1.4)"/>
<use href="#blk" transform="translate(1320,2528) scale(1.4)"/><use href="#blk" transform="translate(1347,2538) scale(1.5)"/>
<g stroke="#b5683e" stroke-width="1.5" fill="none"><path d="M1270,2282 V2298 M1366,2280 L1372,2276 M1089,2460 L1095,2452 M1203,2458 L1208,2450 M1307,2462 L1312,2456"/></g>

<!-- ================= SECTION 4 : profiles ================= -->
<rect x="48" y="2871" width="1120" height="82" fill="url(#gS)"/>
<path d="M760,2796 H836 V2842 H760 Z" fill="#f2f1ef" stroke="#e4e4e2"/>
<path d="M93,2874 Q110,2858 143,2858 Q175,2860 200,2865 Q230,2857 258,2861 L261,2881 L111,2879 Z" fill="#e8cfb4" stroke="#222" stroke-width="1.5"/>
<path d="M140,2859 V2879 M160,2860 V2879 M200,2865 V2880 M230,2860 V2880" stroke="#b59a80" stroke-width="0.8"/>
<rect x="274" y="2864" width="29" height="17" fill="#e8cfb4"/>
<path d="M303,2870 H340 L362,2882" stroke="#e7b53f" stroke-width="3.5" fill="none"/>
<rect x="448" y="2887" width="58" height="9" fill="#d2d3cf"/>
<g>
<ellipse cx="69" cy="2831" rx="19" ry="22" fill="#6f8c66"/><ellipse cx="87" cy="2849" rx="12" ry="15" fill="#6a8a5e"/><ellipse cx="105" cy="2834" rx="13" ry="20" fill="#5f7d55"/>
<ellipse cx="143" cy="2829" rx="17" ry="14" fill="#8aa592"/><ellipse cx="163" cy="2836" rx="14" ry="13" fill="#7f9d86"/>
<ellipse cx="223" cy="2843" rx="20" ry="15" fill="#7f9d88"/><ellipse cx="294" cy="2843" rx="22" ry="15" fill="#7f9d88"/><ellipse cx="321" cy="2854" rx="16" ry="12" fill="#6e8c70"/><ellipse cx="359" cy="2851" rx="12" ry="14" fill="#5e7c52"/>
<ellipse cx="448" cy="2858" rx="10" ry="15" fill="#b3b4a5"/>
<path d="M69,2850 V2870 M105,2852 V2870 M143,2840 V2860 M163,2846 V2860 M223,2855 V2866 M294,2855 V2866 M359,2862 V2875" stroke="#6a5a4a" stroke-width="1"/>
<path d="M528,2881 L537,2814 L546,2881 Z M544,2881 L553,2804 L562,2881 Z" fill="#6f8a6a"/>
<path d="M606,2881 L613,2844 L620,2881 Z M677,2881 L684,2844 L691,2881 Z" fill="#5b7a68"/>
<ellipse cx="622" cy="2865" rx="8" ry="12" fill="#7d6a38"/>
<path d="M588,2873 V2888 M593,2873 V2888" stroke="#333" stroke-width="1.5"/>
<ellipse cx="995" cy="2845" rx="14" ry="20" fill="#6f8c66"/><ellipse cx="1015" cy="2840" rx="14" ry="22" fill="#6a8a64"/><ellipse cx="1060" cy="2850" rx="12" ry="18" fill="#6f8c66"/>
<rect x="1053" y="2886" width="77" height="4" fill="#7b8a5a"/>
</g>
<path d="M663,2888 L668,2868 H760" stroke="#e6b23a" stroke-width="5" fill="none"/>
<path d="M846,2849 Q930,2850 976,2888 L885,2888 Z" fill="#e6e3d6" stroke="#333" stroke-width="1"/>
<rect x="748" y="2849" width="137" height="63" fill="#dcd9cc" stroke="#111" stroke-width="2"/>
<path d="M748,2870 H885 M748,2891 H885 M770,2849 V2912 M820,2849 V2891 M860,2849 V2912 M800,2891 V2912" stroke="#111" stroke-width="2"/>
<path d="M49,2869 H78 L80,2874 H111 L113,2879 L260,2880 L325,2882 V2887 H448 V2896 H506 V2887 H551 L553,2891 H748 M885,2891 H937 L1010,2891 L1012,2894 H1168" stroke="#111" stroke-width="2.5" fill="none"/>
<text x="553" y="2934" class="cj" font-size="16" fill="#333" textLength="86" lengthAdjust="spacingAndGlyphs">剖面圖A-a</text>
<path d="M538,2940 H644" stroke="#111" stroke-width="2.5"/><path d="M538,2946 H644" stroke="#111" stroke-width="1.2"/>

<rect x="48" y="2987" width="1100" height="117" fill="#f7f5f1"/>
<rect x="48" y="3104" width="1100" height="80" fill="url(#gS)"/>
<path d="M368,3061 Q397,3055 441,3057 Q531,3050 620,3047 Q687,3049 716,3057 L716,3084 L368,3084 Z" fill="#e9d7ba"/>
<rect x="470" y="3082" width="679" height="6" fill="#b6b083"/><rect x="480" y="3095" width="669" height="8" fill="#8e925a"/><rect x="365" y="3088" width="115" height="10" fill="#c8c2a4"/>
<path d="M365,3096 L442,3073 H846" stroke="#e7b64a" stroke-width="5" fill="none"/>
<g fill="#d98d6e"><rect x="760" y="3070" width="8" height="26"/><rect x="785" y="3068" width="8" height="28"/><rect x="815" y="3072" width="8" height="24"/></g>
<rect x="760" y="3093" width="86" height="4" fill="#c0583a"/>
<g>
<ellipse cx="91" cy="3050" rx="20" ry="25" fill="#668860"/><ellipse cx="114" cy="3047" rx="18" ry="27" fill="#5f7d55"/>
<path d="M91,3070 V3104 M114,3070 V3104" stroke="#6a5a4a"/>
<path d="M408,3104 L424,2990 L440,3104 Z" fill="#7e9880"/>
<ellipse cx="368" cy="3022" rx="14" ry="9" fill="#6f6a3a"/><ellipse cx="375" cy="3040" rx="12" ry="8" fill="#6f6a3a"/><path d="M368,3030 V3070" stroke="#5a4a30"/>
<ellipse cx="500" cy="3045" rx="18" ry="20" fill="#6f9478"/><ellipse cx="530" cy="3042" rx="20" ry="22" fill="#6a9075"/><ellipse cx="560" cy="3050" rx="14" ry="18" fill="#5f8a62"/><ellipse cx="590" cy="3048" rx="14" ry="18" fill="#5f8a62"/><ellipse cx="630" cy="3047" rx="14" ry="18" fill="#6f9478"/>
<ellipse cx="740" cy="3034" rx="14" ry="12" fill="#a8a890"/><path d="M740,3040 V3075" stroke="#6a5a4a"/>
<ellipse cx="910" cy="3040" rx="18" ry="22" fill="#6e9370"/><ellipse cx="945" cy="3035" rx="20" ry="25" fill="#6a9070"/><ellipse cx="975" cy="3045" rx="15" ry="20" fill="#6e9370"/>
<path d="M910,3060 V3090 M945,3058 V3090 M975,3062 V3090" stroke="#6a5a4a"/>
</g>
<path d="M174,3106 Q187,3074 218,3057 Q236,3049 254,3049 L361,3049 L361,3106 Z" fill="#d9d6cb" stroke="#111" stroke-width="2"/>
<rect x="187" y="3106" width="174" height="31" fill="#d6d3c8" stroke="#111" stroke-width="2"/>
<path d="M195,3077 H361 M243,3049 V3077 M263,3049 V3077 M294,3049 V3106 M323,3049 V3077 M222,3077 V3106 M270,3077 V3106 M323,3077 V3106 M212,3106 V3137" stroke="#111" stroke-width="2"/>
<path d="M48,3104 H98 L100,3107 H125 L127,3104 H174 M361,3104 L482,3107 H1147" stroke="#111" stroke-width="2.5" fill="none"/>
<text x="546" y="3173" class="cj" font-size="16" fill="#333" textLength="70" lengthAdjust="spacingAndGlyphs">剖面圖B-b</text>
<path d="M532,3180 H637" stroke="#111" stroke-width="2.5"/><path d="M532,3186 H637" stroke="#111" stroke-width="1.2"/>

<rect x="58" y="3232" width="1056" height="81" fill="#f7f5f1"/>
<rect x="58" y="3313" width="1056" height="112" fill="url(#gS)"/>
<path d="M163,3310 Q200,3280 300,3277 Q360,3272 420,3280 Q470,3268 550,3270 Q640,3264 720,3276 Q770,3285 775,3310 Z" fill="#e8d4bb"/>
<rect x="168" y="3298" width="245" height="23" fill="#d8c9b5"/>
<rect x="226" y="3298" width="101" height="20" fill="#8b7e70"/>
<path d="M270,3298 V3318 M300,3298 V3318" stroke="#111" stroke-width="2"/>
<path d="M447,3290 H875" stroke="#e7b64a" stroke-width="5"/>
<g fill="#d98d6e"><rect x="784" y="3284" width="8" height="31"/><rect x="810" y="3286" width="8" height="29"/><rect x="840" y="3288" width="8" height="27"/></g>
<rect x="865" y="3304" width="249" height="10" fill="#9a9a60"/>
<g>
<ellipse cx="95" cy="3265" rx="18" ry="28" fill="#5f7d55"/><ellipse cx="118" cy="3260" rx="18" ry="30" fill="#668860"/>
<ellipse cx="525" cy="3268" rx="20" ry="18" fill="#a9bba8"/><ellipse cx="560" cy="3264" rx="22" ry="20" fill="#a0b59f"/>
<ellipse cx="615" cy="3272" rx="14" ry="18" fill="#6e9370"/><ellipse cx="640" cy="3270" rx="14" ry="18" fill="#628a68"/><ellipse cx="665" cy="3274" rx="12" ry="16" fill="#6e9370"/><ellipse cx="690" cy="3272" rx="14" ry="20" fill="#628a68"/>
<ellipse cx="770" cy="3270" rx="14" ry="20" fill="#628a68"/>
<ellipse cx="955" cy="3270" rx="16" ry="22" fill="#6e9370"/><ellipse cx="985" cy="3262" rx="20" ry="28" fill="#6a9070"/><ellipse cx="1015" cy="3265" rx="18" ry="25" fill="#6e9370"/>
<path d="M95,3290 V3313 M118,3288 V3313 M955,3290 V3313 M985,3288 V3313 M1015,3288 V3313" stroke="#6a5a4a"/>
</g>
<path d="M445,3322 L455,3336 H620 L635,3322 Z" fill="#cfcfcb"/>
<path d="M58,3313 H150 L160,3320 H428 L445,3336 H630 L645,3317 H900 L904,3330 H1114" stroke="#111" stroke-width="2.5" fill="none"/>
<text x="471" y="3390" class="cj" font-size="16" fill="#333" textLength="87" lengthAdjust="spacingAndGlyphs">剖面圖C-c</text>
<path d="M457,3399 H565" stroke="#111" stroke-width="2.5"/><path d="M457,3405 H565" stroke="#111" stroke-width="1.2"/>

<!-- site plan -->
<path d="M1217,2862 L1373,2857 L1445,3405 L1123,3376 Z" fill="#a9ab98"/>
<path d="M1240,3269 Q1300,3250 1340,3262 Q1420,3270 1442,3330 L1440,3396 Q1350,3400 1262,3392 Q1240,3330 1240,3269 Z" fill="#d9d8d2"/>
<g fill="none" stroke="#eceae4" stroke-width="5">
<path d="M1240,2875 Q1300,2950 1255,3000 Q1200,3060 1250,3120 Q1300,3180 1230,3250 Q1180,3300 1190,3370"/>
<path d="M1300,2960 Q1380,2950 1390,3020 Q1395,3100 1320,3140 Q1260,3180 1300,3230"/>
<path d="M1350,2900 Q1330,3000 1280,3060 M1360,3080 Q1420,3120 1410,3200 Q1380,3260 1340,3262"/>
<path d="M1170,3200 Q1220,3180 1280,3200 M1200,3320 Q1240,3260 1300,3270"/>
</g>
<ellipse cx="1290" cy="3222" rx="22" ry="14" fill="#dcdcd8"/>
<path d="M1255,2877 L1308,2883 L1300,2900 L1275,2925 L1258,2928 Z" fill="#d9b48a" stroke="#c75b3a" stroke-width="2"/>
<path d="M1236,3099 L1216,3137 L1255,3132 Z" fill="#d9b48a" stroke="#c75b3a" stroke-width="2"/>
<ellipse cx="1218" cy="3303" rx="21" ry="19" fill="#d9b48a" stroke="#c75b3a" stroke-width="2"/>
<g class="sf" font-size="11" fill="#333"><text x="1338" y="2849">a</text><text x="1166" y="3044">B</text><text x="1411" y="3049">b</text><text x="1135" y="3204">C</text><text x="1432" y="3192">c</text><text x="1340" y="3423">A</text></g>
<path d="M1316,2841 H1332 V2848 M1180,3034 H1188 V3046 M1402,3036 H1410 V3048 M1148,3190 H1156 V3204 M1424,3180 H1432 V3194 M1316,3414 H1332 V3408" stroke="#333" stroke-width="1" fill="none"/>

<!-- ================= SECTION 5 ================= -->
<polygon points="48,3744 185,3651 317,3736 187,3829" fill="#fbf6f0" stroke="#111" stroke-width="2.5"/>
<g fill="none" stroke="#c76a4a" stroke-width="1.3" stroke-dasharray="5 3">
<path d="M140,3638 Q160,3705 232,3655"/><path d="M68,3712 Q122,3745 75,3788"/><path d="M232,3683 Q228,3760 302,3776"/><path d="M130,3827 Q185,3780 242,3815"/>
</g>
<path d="M452,3680 Q480,3662 520,3668 Q555,3672 553,3700 Q548,3735 525,3745 Q560,3748 590,3755 Q605,3765 590,3778 L560,3782 Q530,3785 520,3795 Q512,3812 498,3810 Q490,3800 505,3785 Q515,3770 480,3762 Q455,3752 430,3748 L405,3738 Q372,3735 370,3725 L372,3712 Q380,3705 400,3708 L420,3712 Q440,3712 455,3700 Q460,3690 452,3680 Z" fill="#f3d9c6" stroke="#8a7a4e" stroke-width="2.5"/>
<ellipse cx="505" cy="3763" rx="20" ry="12" fill="#cfe0e6"/>
<rect x="382" y="3716" width="14" height="8" rx="3" fill="#fff" stroke="#8a7a4e"/>
<g stroke="#d36a4a" stroke-width="1.2" stroke-dasharray="4 3"><path d="M370,3732 V3990 M452,3681 V3954 M490,3810 V4026 M601,3774 V4026"/></g>
<path d="M75,3985 Q60,3990 65,4010 Q95,4040 125,4070 Q145,4090 170,4082 Q200,4068 230,4072 Q265,4080 285,4060 Q295,4040 270,4010 Q250,3985 260,3955 Q262,3930 240,3928 Q200,3930 180,3920 Q150,3915 130,3940 Q115,3975 75,3985 Z" fill="#fbf5ef" stroke="#222" stroke-width="2"/>
<g fill="none" stroke="#c76a4a" stroke-width="1.3" stroke-dasharray="5 3"><path d="M140,3912 Q175,3950 135,3975"/><path d="M82,3975 Q110,4000 75,4040"/><path d="M210,3980 Q245,3990 285,3965"/><path d="M120,4045 Q170,4020 210,4060"/><path d="M220,4045 Q240,4030 260,4070"/></g>
<path d="M395,3985 L420,3975 L460,3960 L490,3930 Q530,3925 560,3935 Q565,3970 555,4000 Q580,4010 605,4020 Q612,4040 590,4055 Q565,4080 530,4085 Q500,4088 480,4080 Q460,4065 445,4050 Q420,4040 400,4030 Q385,4010 395,3985 Z" fill="#e8d8cc" stroke="#666" stroke-width="1.5"/>
<path d="M400,3990 L450,3975 L455,4005 L405,4020 Z" fill="#bdb8b2"/>
<path d="M405,3995 L450,3982 M407,4003 L452,3990 M409,4011 L454,3998" stroke="#fff" stroke-width="1.5"/>
<path d="M450,3990 Q480,3960 505,3950 Q540,3945 545,3975 Q540,4000 520,4020 Q510,4045 490,4050 Q470,4035 450,4020 Q435,4005 450,3990 Z" fill="#3e6078"/>
<path d="M530,4040 Q560,4030 595,4040" stroke="#8f8652" stroke-width="5" fill="none"/>
<path d="M490,3930 L510,3928 L505,3945 Z" fill="#b06a5a"/>
<path d="M70,4225 Q100,4195 150,4170 Q200,4168 250,4180 Q265,4210 240,4240 Q270,4265 285,4290 Q280,4320 240,4335 Q200,4350 160,4345 Q120,4320 90,4300 Q55,4280 60,4255 Q62,4235 70,4225 Z" fill="#e8e6e6" stroke="#555" stroke-width="1.5"/>
<path d="M75,4240 Q110,4215 140,4195 Q170,4200 200,4215 Q210,4240 230,4260 Q250,4280 230,4295 Q200,4300 180,4315 Q150,4320 130,4290 Q100,4270 75,4255 Z" fill="#3e6078"/>
<path d="M90,4215 L135,4185 M95,4225 L140,4195 M200,4320 L255,4295 M205,4330 L262,4305 M195,4310 L250,4285" stroke="#b9b6b4" stroke-width="3"/>
<path d="M400,4245 L440,4225 L470,4200 L500,4190 Q550,4188 580,4200 Q585,4235 570,4260 Q590,4270 610,4280 Q620,4300 600,4320 Q570,4345 520,4348 Q480,4340 460,4320 Q430,4310 410,4300 Q390,4280 400,4245 Z" fill="#f2e3d6" stroke="#777" stroke-width="1.5"/>
<path d="M470,4215 Q510,4200 555,4205 Q560,4235 520,4250 Q490,4255 470,4240 Z" fill="#fbefe6" stroke="#8f8652" stroke-width="2"/>
<ellipse cx="520" cy="4292" rx="36" ry="18" fill="#9ab8cc"/>
<path d="M410,4250 L455,4235 M412,4260 L458,4245 M414,4270 L460,4255" stroke="#bfb9b2" stroke-width="3"/>
<rect x="408" y="4228" width="18" height="10" fill="#a89a56"/>

<ellipse cx="828" cy="3763" rx="134" ry="122" fill="#c7b46a"/>
<g clip-path="url(#cCirc)">
<path d="M690,3640 L960,3640 L960,3700 Q880,3690 820,3730 Q760,3760 690,3770 Z" fill="#a8a45c"/>
<path d="M690,3760 Q760,3745 830,3720 Q880,3700 960,3710 L960,3740 Q880,3735 840,3770 Q780,3800 690,3810 Z" fill="#ece2cc"/>
<path d="M760,3660 L800,3645 L805,3690 L770,3700 Z" fill="#c98f8a"/>
<path d="M860,3660 Q900,3650 940,3665 L935,3690 Q900,3680 865,3690 Z" fill="#c98f8a"/>
<ellipse cx="790" cy="3762" rx="28" ry="10" fill="#5e90a8" stroke="#c98f8a" stroke-width="3"/>
<ellipse cx="880" cy="3780" rx="32" ry="12" fill="#5e90a8" stroke="#c98f8a" stroke-width="3"/>
<path d="M690,3800 L960,3780 L960,3890 L690,3890 Z" fill="#d9a848"/>
<path d="M720,3830 L900,3820 M740,3850 L920,3838" stroke="#c48a3a" stroke-width="3"/>
<circle cx="760" cy="3690" r="10" fill="#e09a50"/><circle cx="845" cy="3670" r="9" fill="#d08a48"/>
</g>
<ellipse cx="828" cy="3763" rx="134" ry="122" fill="none" stroke="#aaa" stroke-width="1"/>
<path d="M818,3920 l4,6 M830,3928 l3,6 M842,3918 l3,5 M850,3932 l2,6 M862,3922 l4,5 M872,3935 l2,5 M825,3940 l3,4 M845,3944 l2,4" stroke="#333" stroke-width="2"/>

<rect x="1034" y="3690" width="389" height="182" fill="url(#gG)"/>
<g fill="#6d7f55"><circle cx="1120" cy="3667" r="8"/><circle cx="1138" cy="3661" r="10"/><circle cx="1160" cy="3667" r="8"/><circle cx="1075" cy="3680" r="6"/><circle cx="1196" cy="3679" r="6"/><circle cx="1330" cy="3679" r="5"/><circle cx="1345" cy="3681" r="5"/><circle cx="1370" cy="3683" r="5"/><circle cx="1396" cy="3683" r="5"/></g>
<path d="M1120,3675 V3688 M1138,3670 V3688 M1160,3675 V3688" stroke="#555"/>
<rect x="1100" y="3680" width="110" height="10" fill="#b0b0ae"/>
<line x1="1034" y1="3690" x2="1423" y2="3690" stroke="#222" stroke-width="2"/>
<rect x="1385" y="3688" width="38" height="10" fill="#555"/>
<ellipse cx="1247" cy="3683" rx="22" ry="23" fill="none" stroke="#888" stroke-width="1"/>
<path d="M1229,3696 L1190,3785 M1265,3696 L1343,3790" stroke="#888" stroke-width="1" fill="none"/>
<ellipse cx="1265" cy="3794" rx="79" ry="84" fill="#f0f0ee"/>
<g clip-path="url(#cSight)">
<rect x="1186" y="3710" width="160" height="85" fill="#f7f7f5"/>
<ellipse cx="1205" cy="3788" rx="9" ry="13" fill="#7d8a55"/><ellipse cx="1328" cy="3790" rx="9" ry="13" fill="#7d8a55"/>
<rect x="1186" y="3802" width="160" height="8" fill="#777"/><rect x="1210" y="3804" width="110" height="3" fill="#ddd"/>
<path d="M1250,3810 Q1265,3822 1280,3810" fill="#999"/>
<rect x="1186" y="3812" width="160" height="70" fill="#e8e8e6"/>
</g>
<ellipse cx="1265" cy="3794" rx="79" ry="84" fill="none" stroke="#999" stroke-width="1.2"/>

<g class="t" transform="translate(660,3900) scale(0.51,0.337)">
<path d="M10,300 L1500,265 L1500,1355 L10,1355 Z" fill="#e9e1cf"/>
<path d="M10,300 L1500,265 L1500,335 L10,385 Z" fill="#ddd7cc"/>
<path d="M10,380 L1500,330 L1500,620 L10,640 Z" fill="#cdb768"/>
<path d="M10,520 Q400,430 700,430 Q950,440 960,480 Q900,530 600,560 Q300,600 10,640 Z" fill="#e8dcc0"/>
<path d="M880,400 Q1200,380 1310,400 Q1220,430 1200,470 Q1180,510 990,545 Q1000,480 880,400 Z" fill="#ebe3cf"/>
<path d="M10,640 L10,1355 L720,1355 Q400,1260 230,1100 Q150,980 200,800 L900,620 L900,600 Z" fill="#f1ebe0"/>
<path d="M175,520 Q200,480 385,485 L388,545 Q320,560 300,605 L180,595 Z" fill="url(#pst)"/>
<path d="M925,540 Q1000,520 1200,560 L1430,640 Q1470,700 1480,760 L1380,720 L930,600 Z" fill="url(#pst2)"/>
<path d="M210,720 L880,620 L1480,700 L1480,805 L880,705 L230,795 Z" fill="url(#pst)"/>
<path d="M215,800 L230,790 L880,705 L920,730 L1100,790 L1280,830 L1100,880 L850,880 L520,860 Q300,880 230,920 L165,960 Q160,880 215,800 Z" fill="#36566c"/>
<path d="M230,920 Q300,880 520,860 L850,880 L1100,880 L1280,840 L1300,900 L1200,960 L900,1100 L750,1355 L720,1355 Q450,1310 300,1200 Q170,1080 165,960 Z" fill="#efe5cc"/>
<g stroke="#cdb98c" stroke-width="2" fill="none"><path d="M590,1355 L1010,905 M640,1355 L1050,905 M700,1355 L1100,900 M760,1355 L1150,895 M820,1340 L1200,890 M880,1320 L1250,880"/></g>
<path d="M140,760 Q160,720 210,715 L230,795 Q170,850 165,960 Q170,1080 300,1200 Q450,1310 720,1355 L560,1355 Q300,1280 170,1130 Q130,1050 140,760 Z" fill="url(#pst)"/>
<path d="M140,760 Q130,1050 170,1130 Q300,1280 560,1355" stroke="#e0b440" stroke-width="3" fill="none"/>
<path d="M1150,1020 Q1250,870 1420,850 L1500,860 L1500,1300 L1220,1270 Q1160,1200 1150,1020 Z" fill="#a69a55"/>
<path d="M1190,1200 L1500,1230 L1500,1300 L1220,1270 Z" fill="#cf9a94"/>
<path d="M1250,1050 Q1300,1000 1280,950 M1240,1150 Q1300,1100 1330,1060" stroke="#8a9a60" stroke-width="3" fill="none"/>
<path d="M1080,275 L1500,265 L1500,300 L1350,290 Q1420,320 1480,350 L1470,370 L1340,300 L1080,290 Z" fill="#d08a3a"/>
<line x1="1170" y1="30" x2="1172" y2="880" stroke="#3a3a30" stroke-width="2.5"/>
<g stroke="#4a4a3a" stroke-width="1.2" fill="none"><path d="M1170,300 Q1080,330 1040,330 M1170,300 Q1250,320 1290,320 M1170,450 Q1080,470 1040,500 M1170,450 Q1270,470 1320,480 M1170,600 Q1080,610 1010,590 M1170,600 Q1270,610 1320,620 M1170,150 Q1110,170 1080,180 M1170,150 Q1230,170 1260,175"/></g>
<g fill="#6f8f88"><circle cx="1150" cy="50" r="8"/><circle cx="1190" cy="70" r="8"/><circle cx="1120" cy="110" r="8"/><circle cx="1230" cy="120" r="8"/><circle cx="1090" cy="180" r="9"/><circle cx="1255" cy="175" r="9"/><circle cx="1050" cy="330" r="10"/><circle cx="1100" cy="320" r="9"/><circle cx="1240" cy="315" r="9"/><circle cx="1290" cy="320" r="10"/><circle cx="1040" cy="500" r="10"/><circle cx="1100" cy="470" r="9"/><circle cx="1260" cy="470" r="9"/><circle cx="1320" cy="480" r="10"/><circle cx="1015" cy="590" r="10"/><circle cx="1090" cy="610" r="9"/><circle cx="1250" cy="610" r="9"/><circle cx="1320" cy="620" r="10"/><circle cx="1130" cy="420" r="8"/><circle cx="1210" cy="400" r="8"/></g>
<g fill="#7f9a96" opacity=".85"><circle cx="80" cy="200" r="20"/><circle cx="120" cy="160" r="18"/><circle cx="150" cy="240" r="20"/><circle cx="100" cy="280" r="18"/><circle cx="70" cy="330" r="16"/><circle cx="180" cy="200" r="15"/></g>
<g stroke="#6a5040" stroke-width="1.5" fill="none"><path d="M185,470 L185,300 M185,380 L140,300 M185,380 L240,290 M185,420 L130,360 M185,420 L250,350"/></g>
<ellipse cx="665" cy="530" rx="32" ry="100" fill="#eee8e0"/><circle cx="665" cy="425" r="14" fill="#5a3a2a"/><path d="M660,450 L690,470 L680,560 L665,560 Z" fill="#9fc0d8"/>
<ellipse cx="765" cy="570" rx="22" ry="50" fill="#c88a8a"/><circle cx="765" cy="525" r="14" fill="#d8a888"/>
<ellipse cx="500" cy="480" rx="15" ry="45" fill="#c9946a"/>
<path d="M300,900 L380,880 L390,990 L320,1000 Z" fill="#6e2a2a"/><circle cx="350" cy="870" r="22" fill="#4a3a30"/><path d="M320,1000 L360,1000 L350,1090 L330,1090 Z" fill="#3d5370"/>
<ellipse cx="440" cy="900" rx="32" ry="45" fill="#d8b080"/><circle cx="430" cy="850" r="20" fill="#e8d4a0"/>
<ellipse cx="1040" cy="1060" rx="60" ry="90" fill="#f2efe8"/><ellipse cx="1050" cy="960" rx="45" ry="30" fill="#e8d4a0"/><path d="M1020,970 L1040,1030 L1070,1020 Z" fill="#7a5a9a"/><path d="M960,1150 Q1030,1200 1090,1160 L1080,1230 Q1000,1250 950,1210 Z" fill="#a04a3a"/>
<g stroke="#7a8a6a" stroke-width="2" fill="none"><path d="M420,1230 L440,1100 M460,1240 L470,1070 M500,1230 L505,1060 M530,1220 L540,1050 M380,1230 L400,1120"/></g>
</g>
<rect x="1316" y="4331" width="13" height="13" fill="#bdbdbd"/>
<text x="1333" y="4343" class="cj" font-size="11" fill="#c4c4c4" font-style="italic">西安美術學院</text>
<text x="1418" y="4344" class="cs" font-size="13" fill="#d0d0d0" font-weight="bold">毕业展</text>
<text x="1325" y="4358" class="cs" font-size="12" fill="#c8c8c8">xafa.meishu.org.cn</text>
</svg>
</body></html>
